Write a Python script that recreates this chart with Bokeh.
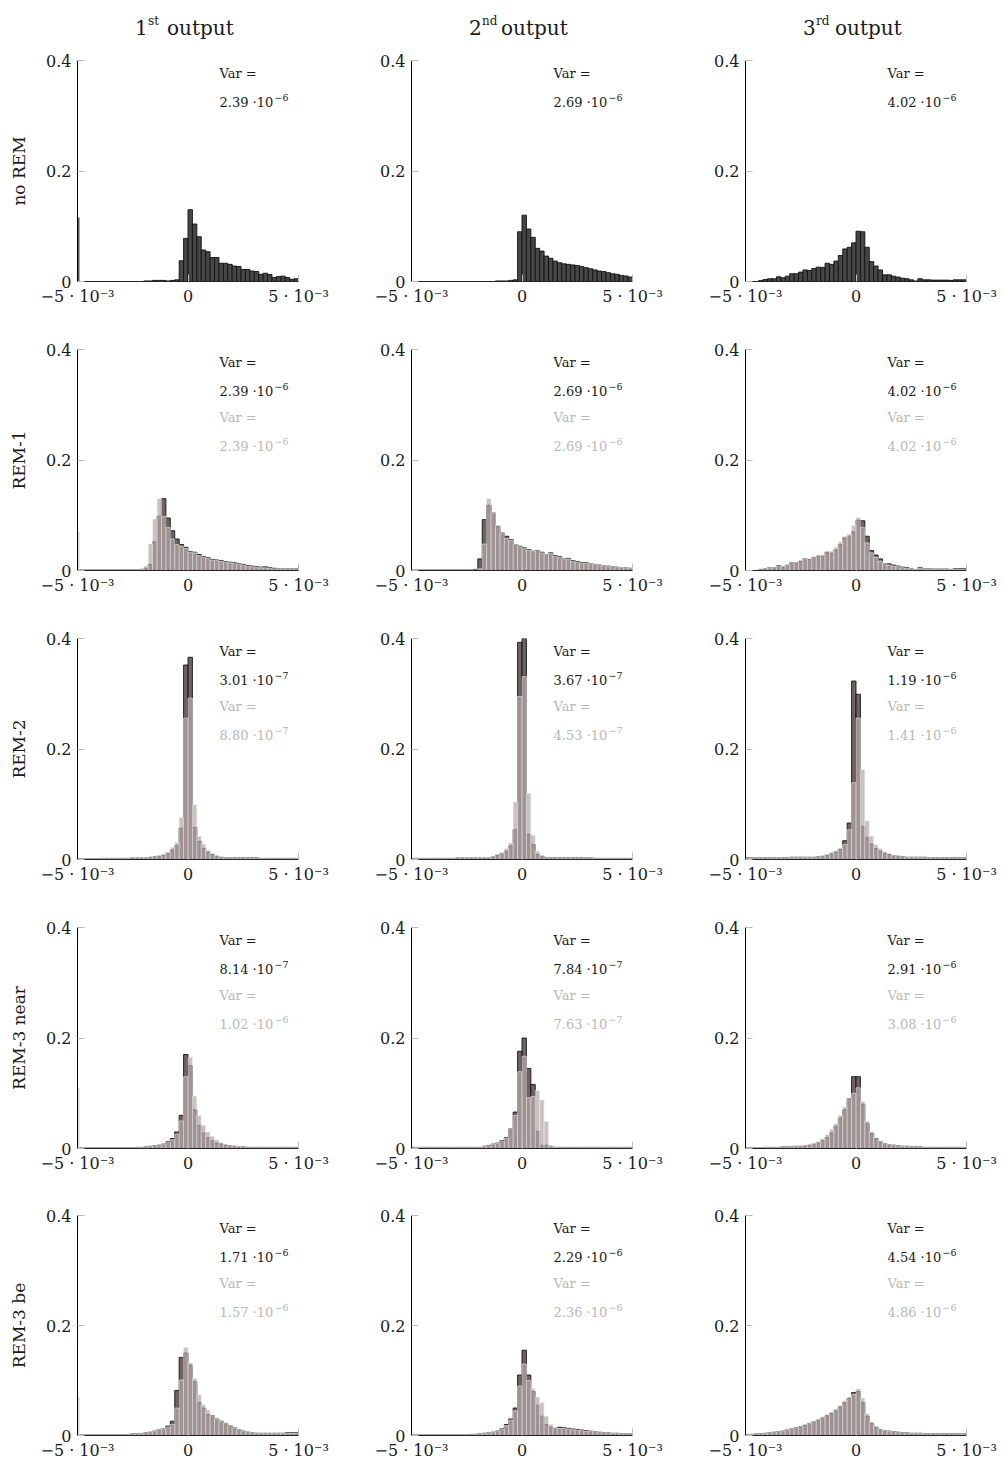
import numpy as np
from bokeh.plotting import figure
from bokeh.layouts import gridplot
from bokeh.models import Range1d, FixedTicker, Label
from bokeh.embed import file_html
from bokeh.resources import INLINE

# ---------------- data ----------------
bin_edges = np.linspace(-0.005, 0.005, 51)

col_numbers = ["1", "2", "3"]
col_suffix = ["st", "nd", "rd"]
row_names = ["no REM", "REM-1", "REM-2", "REM-3 near", "REM-3 be"]

x_ticks = [-0.005, 0, 0.005]
x_tick_labels = ["\u22125 \u00b7 10\u207b\u00b3", "0", "5 \u00b7 10\u207b\u00b3"]
y_ticks = [0, 0.2, 0.4]
y_tick_labels = ["0", "0.2", "0.4"]

# variance annotations: [row][col]  (dark series / light series)
var_dark = [["2.39", "2.69", "4.02"],
            ["2.39", "2.69", "4.02"],
            ["3.01", "3.67", "1.19"],
            ["8.14", "7.84", "2.91"],
            ["1.71", "2.29", "4.54"]]
var_dark_exp = [["\u22126", "\u22126", "\u22126"], ["\u22126", "\u22126", "\u22126"],
                ["\u22127", "\u22127", "\u22126"], ["\u22127", "\u22127", "\u22126"],
                ["\u22126", "\u22126", "\u22126"]]
var_light = [None,
             ["2.39", "2.69", "4.02"],
             ["8.80", "4.53", "1.41"],
             ["1.02", "7.63", "3.08"],
             ["1.57", "2.36", "4.86"]]
var_light_exp = [None, ["\u22126", "\u22126", "\u22126"], ["\u22127", "\u22127", "\u22126"],
                 ["\u22126", "\u22127", "\u22126"], ["\u22126", "\u22126", "\u22126"]]

# left-edge spikes (col 1)
edge_spike_dark = [0.116, 0, 0, 0, 0]
edge_spike_light = [0, 0.07, 0, 0.11, 0.07]

# ---- row 1 : no REM ----
noREM_c1 = [0, 0, 0, 0, 0, 0, 0, 0, 0, 0,
            0, 0, 0, 0, 0, 0.001, 0.001, 0.002, 0.002, 0.002,
            0.001, 0.002, 0.003, 0.0375, 0.078, 0.130, 0.104, 0.081, 0.057, 0.054,
            0.0434, 0.0434, 0.033, 0.033, 0.031, 0.028, 0.027, 0.0217, 0.0217, 0.019,
            0.018, 0.013, 0.015, 0.0127, 0.0072, 0.009, 0.0097, 0.0072, 0.004, 0.005]
noREM_c2 = [0, 0, 0, 0, 0, 0, 0, 0, 0, 0,
            0, 0, 0, 0, 0, 0, 0, 0, 0, 0.001,
            0.001, 0.001, 0.002, 0.003, 0.090, 0.120, 0.095, 0.080, 0.060, 0.055,
            0.046, 0.042, 0.037, 0.034, 0.032, 0.031, 0.030, 0.029, 0.027, 0.025,
            0.023, 0.021, 0.019, 0.018, 0.016, 0.014, 0.013, 0.011, 0.010, 0.008]
noREM_c3 = [0, 0, 0, 0.002, 0.0036, 0.005, 0.005, 0.0085, 0.0066, 0.0097,
            0.014, 0.014, 0.017, 0.021, 0.020, 0.0235, 0.026, 0.0255, 0.033, 0.031,
            0.037, 0.047, 0.059, 0.062, 0.070, 0.091, 0.090, 0.062, 0.036, 0.028,
            0.021, 0.012, 0.012, 0.0097, 0.008, 0.006, 0.005, 0.003, 0.001, 0.005,
            0.003, 0.003, 0.0025, 0.0025, 0.0025, 0.0025, 0.002, 0.003, 0.003, 0.003]

# ---- row 2 : REM-1 ----
rem1_dark_c1 = [0.001, 0.001, 0.001, 0.001, 0.001, 0.001, 0.001, 0.001, 0.001, 0.001,
                0.001, 0.001, 0.001, 0.001, 0.002, 0.004, 0.011, 0.052, 0.098, 0.130,
                0.095, 0.072, 0.057, 0.047, 0.042, 0.034, 0.033, 0.029, 0.025, 0.023,
                0.020, 0.019, 0.018, 0.016, 0.015, 0.014, 0.012, 0.011, 0.009, 0.008,
                0.007, 0.006, 0.0066, 0.005, 0.004, 0.003, 0.003, 0.003, 0.003, 0.003]
rem1_light_c1 = [0.001, 0.001, 0.001, 0.001, 0.001, 0.001, 0.001, 0.001, 0.001, 0.001,
                 0.001, 0.001, 0.001, 0.001, 0.002, 0.008, 0.048, 0.093, 0.130, 0.098,
                 0.078, 0.057, 0.047, 0.044, 0.040, 0.033, 0.032, 0.027, 0.024, 0.022,
                 0.019, 0.018, 0.017, 0.015, 0.014, 0.013, 0.011, 0.010, 0.008, 0.007,
                 0.006, 0.005, 0.005, 0.004, 0.003, 0.003, 0.003, 0.003, 0.003, 0.003]
rem1_dark_c2 = [0.001, 0.001, 0.001, 0.001, 0.001, 0.001, 0.001, 0.001, 0.001, 0.001,
                0.001, 0.001, 0.001, 0.001, 0.002, 0.021, 0.092, 0.118, 0.104, 0.080,
                0.068, 0.062, 0.056, 0.047, 0.044, 0.041, 0.038, 0.035, 0.036, 0.033,
                0.029, 0.032, 0.027, 0.025, 0.021, 0.022, 0.018, 0.016, 0.014, 0.014,
                0.012, 0.011, 0.010, 0.009, 0.008, 0.007, 0.006, 0.005, 0.005, 0.004]
rem1_light_c2 = [0.001, 0.001, 0.001, 0.001, 0.001, 0.001, 0.001, 0.001, 0.001, 0.001,
                 0.001, 0.001, 0.001, 0.001, 0.001, 0.003, 0.048, 0.130, 0.104, 0.082,
                 0.068, 0.058, 0.055, 0.047, 0.043, 0.040, 0.037, 0.035, 0.038, 0.032,
                 0.029, 0.031, 0.026, 0.024, 0.021, 0.021, 0.017, 0.015, 0.013, 0.013,
                 0.012, 0.011, 0.010, 0.009, 0.008, 0.007, 0.006, 0.006, 0.005, 0.004]
rem1_dark_c3 = [0, 0, 0, 0.002, 0.0036, 0.005, 0.005, 0.0085, 0.0066, 0.0097,
                0.014, 0.014, 0.017, 0.021, 0.020, 0.0235, 0.026, 0.0255, 0.033, 0.031,
                0.037, 0.047, 0.059, 0.062, 0.070, 0.091, 0.090, 0.062, 0.036, 0.028,
                0.021, 0.012, 0.012, 0.0097, 0.008, 0.006, 0.005, 0.003, 0.001, 0.005,
                0.003, 0.003, 0.0025, 0.0025, 0.0025, 0.0025, 0.002, 0.003, 0.003, 0.003]
rem1_light_c3 = [0, 0, 0.001, 0.003, 0.004, 0.005, 0.006, 0.008, 0.008, 0.010,
                 0.014, 0.015, 0.018, 0.021, 0.022, 0.025, 0.028, 0.029, 0.035, 0.035,
                 0.042, 0.052, 0.062, 0.066, 0.082, 0.096, 0.078, 0.050, 0.032, 0.024,
                 0.017, 0.012, 0.010, 0.008, 0.007, 0.005, 0.004, 0.003, 0.003, 0.004,
                 0.003, 0.003, 0.002, 0.002, 0.002, 0.002, 0.002, 0.002, 0.002, 0.002]

# ---- row 3 : REM-2 ----
rem2_dark_c1 = [0.001, 0.001, 0.001, 0.001, 0.001, 0.002, 0.002, 0.002, 0.002, 0.002,
                0.002, 0.002, 0.003, 0.003, 0.003, 0.003, 0.004, 0.005, 0.006, 0.008,
                0.011, 0.017, 0.025, 0.057, 0.352, 0.366, 0.058, 0.033, 0.020, 0.013,
                0.009, 0.006, 0.004, 0.003, 0.003, 0.003, 0.003, 0.003, 0.003, 0.003,
                0.003, 0.002, 0.002, 0.002, 0.002, 0.002, 0.002, 0.002, 0.002, 0.002]
rem2_light_c1 = [0.001, 0.001, 0.001, 0.001, 0.001, 0.002, 0.002, 0.002, 0.002, 0.002,
                 0.002, 0.002, 0.004, 0.004, 0.004, 0.004, 0.005, 0.006, 0.0075, 0.0093,
                 0.013, 0.022, 0.031, 0.076, 0.256, 0.292, 0.099, 0.042, 0.028, 0.017,
                 0.011, 0.007, 0.005, 0.003, 0.003, 0.003, 0.003, 0.003, 0.003, 0.003,
                 0.003, 0.002, 0.002, 0.002, 0.002, 0.002, 0.002, 0.002, 0.002, 0.002]
rem2_dark_c2 = [0.002, 0.002, 0.002, 0.002, 0.002, 0.002, 0.002, 0.002, 0.002, 0.002,
                0.003, 0.003, 0.003, 0.003, 0.003, 0.003, 0.003, 0.003, 0.005, 0.008,
                0.011, 0.015, 0.025, 0.054, 0.393, 0.400, 0.045, 0.027, 0.009, 0.006,
                0.003, 0.003, 0.003, 0.003, 0.003, 0.003, 0.003, 0.003, 0.003, 0.003,
                0.003, 0.002, 0.002, 0.002, 0.002, 0.002, 0.002, 0.002, 0.002, 0.002]
rem2_light_c2 = [0.002, 0.002, 0.002, 0.002, 0.002, 0.002, 0.002, 0.002, 0.002, 0.002,
                 0.004, 0.004, 0.004, 0.004, 0.004, 0.004, 0.004, 0.004, 0.006, 0.009,
                 0.012, 0.020, 0.030, 0.104, 0.295, 0.331, 0.120, 0.044, 0.015, 0.007,
                 0.003, 0.003, 0.003, 0.003, 0.003, 0.003, 0.003, 0.003, 0.003, 0.003,
                 0.003, 0.002, 0.002, 0.002, 0.002, 0.002, 0.002, 0.002, 0.002, 0.002]
rem2_dark_c3 = [0.003, 0.003, 0.003, 0.003, 0.003, 0.003, 0.003, 0.003, 0.003, 0.003,
                0.004, 0.004, 0.004, 0.004, 0.004, 0.004, 0.005, 0.006, 0.008, 0.011,
                0.014, 0.018, 0.034, 0.066, 0.323, 0.299, 0.060, 0.040, 0.028, 0.020,
                0.015, 0.011, 0.009, 0.007, 0.006, 0.005, 0.004, 0.004, 0.004, 0.004,
                0.004, 0.003, 0.003, 0.003, 0.003, 0.003, 0.003, 0.003, 0.003, 0.003]
rem2_light_c3 = [0.003, 0.003, 0.003, 0.003, 0.003, 0.003, 0.003, 0.003, 0.003, 0.003,
                 0.004, 0.004, 0.004, 0.004, 0.004, 0.004, 0.005, 0.007, 0.009, 0.012,
                 0.015, 0.021, 0.027, 0.054, 0.139, 0.256, 0.163, 0.070, 0.042, 0.027,
                 0.020, 0.014, 0.011, 0.008, 0.007, 0.005, 0.004, 0.004, 0.004, 0.004,
                 0.004, 0.003, 0.003, 0.003, 0.003, 0.003, 0.003, 0.003, 0.003, 0.003]

# ---- row 4 : REM-3 near ----
rem3n_dark_c1 = [0.001, 0.001, 0.001, 0.001, 0.001, 0.001, 0.001, 0.001, 0.001, 0.001,
                 0.001, 0.001, 0.001, 0.002, 0.002, 0.003, 0.004, 0.005, 0.006, 0.008,
                 0.012, 0.018, 0.030, 0.060, 0.170, 0.150, 0.070, 0.042, 0.028, 0.020,
                 0.014, 0.010, 0.008, 0.006, 0.005, 0.004, 0.003, 0.003, 0.002, 0.002,
                 0.002, 0.002, 0.002, 0.002, 0.002, 0.002, 0.002, 0.002, 0.002, 0.002]
rem3n_light_c1 = [0.001, 0.001, 0.001, 0.001, 0.001, 0.001, 0.001, 0.001, 0.001, 0.001,
                  0.001, 0.001, 0.001, 0.002, 0.002, 0.003, 0.004, 0.005, 0.006, 0.008,
                  0.011, 0.016, 0.026, 0.050, 0.130, 0.165, 0.095, 0.060, 0.042, 0.030,
                  0.022, 0.016, 0.011, 0.008, 0.006, 0.005, 0.004, 0.003, 0.003, 0.002,
                  0.002, 0.002, 0.002, 0.002, 0.002, 0.002, 0.002, 0.002, 0.002, 0.002]
rem3n_dark_c2 = [0.002, 0.002, 0.002, 0.002, 0.002, 0.002, 0.002, 0.002, 0.002, 0.002,
                 0.002, 0.002, 0.002, 0.002, 0.002, 0.002, 0.004, 0.0055, 0.008, 0.0097,
                 0.014, 0.020, 0.036, 0.066, 0.176, 0.200, 0.145, 0.116, 0.031, 0.006,
                 0.006, 0.004, 0.002, 0.002, 0.002, 0.002, 0.002, 0.002, 0.002, 0.002,
                 0.002, 0.002, 0.002, 0.002, 0.002, 0.002, 0.002, 0.002, 0.002, 0.002]
rem3n_light_c2 = [0.002, 0.002, 0.002, 0.002, 0.002, 0.002, 0.002, 0.002, 0.002, 0.002,
                  0.002, 0.002, 0.002, 0.002, 0.002, 0.002, 0.004, 0.005, 0.008, 0.009,
                  0.013, 0.019, 0.036, 0.060, 0.139, 0.167, 0.092, 0.094, 0.105, 0.088,
                  0.049, 0.004, 0.002, 0.002, 0.002, 0.002, 0.002, 0.002, 0.002, 0.002,
                  0.002, 0.002, 0.002, 0.002, 0.002, 0.002, 0.002, 0.002, 0.002, 0.002]
rem3n_dark_c3 = [0.001, 0.001, 0.001, 0.001, 0.002, 0.002, 0.002, 0.002, 0.003, 0.003,
                 0.003, 0.004, 0.004, 0.005, 0.006, 0.008, 0.010, 0.014, 0.020, 0.028,
                 0.040, 0.055, 0.070, 0.090, 0.130, 0.130, 0.080, 0.045, 0.028, 0.018,
                 0.012, 0.009, 0.007, 0.006, 0.005, 0.004, 0.004, 0.003, 0.003, 0.003,
                 0.002, 0.002, 0.002, 0.002, 0.002, 0.002, 0.002, 0.002, 0.002, 0.002]
rem3n_light_c3 = [0.001, 0.001, 0.001, 0.001, 0.002, 0.002, 0.002, 0.002, 0.003, 0.003,
                  0.003, 0.004, 0.005, 0.006, 0.008, 0.010, 0.013, 0.018, 0.025, 0.035,
                  0.045, 0.060, 0.075, 0.090, 0.100, 0.110, 0.085, 0.050, 0.030, 0.020,
                  0.014, 0.010, 0.008, 0.006, 0.005, 0.004, 0.004, 0.003, 0.003, 0.003,
                  0.002, 0.002, 0.002, 0.002, 0.002, 0.002, 0.002, 0.002, 0.002, 0.002]

# ---- row 5 : REM-3 be ----
rem3b_dark_c1 = [0.001, 0.001, 0.001, 0.001, 0.001, 0.001, 0.001, 0.001, 0.001, 0.001,
                 0.001, 0.001, 0.003, 0.003, 0.003, 0.005, 0.006, 0.008, 0.011, 0.012,
                 0.017, 0.026, 0.082, 0.142, 0.150, 0.128, 0.098, 0.060, 0.050, 0.038,
                 0.036, 0.030, 0.026, 0.022, 0.018, 0.014, 0.011, 0.008, 0.006, 0.005,
                 0.004, 0.004, 0.004, 0.004, 0.004, 0.004, 0.004, 0.005, 0.005, 0.005]
rem3b_light_c1 = [0.001, 0.001, 0.001, 0.001, 0.001, 0.001, 0.001, 0.001, 0.001, 0.001,
                  0.001, 0.001, 0.003, 0.003, 0.003, 0.005, 0.006, 0.008, 0.011, 0.012,
                  0.015, 0.020, 0.050, 0.101, 0.160, 0.132, 0.104, 0.074, 0.056, 0.047,
                  0.036, 0.030, 0.026, 0.022, 0.018, 0.014, 0.011, 0.008, 0.006, 0.005,
                  0.004, 0.004, 0.004, 0.004, 0.004, 0.004, 0.004, 0.004, 0.004, 0.004]
rem3b_dark_c2 = [0.001, 0.001, 0.001, 0.001, 0.001, 0.001, 0.001, 0.001, 0.001, 0.001,
                 0.001, 0.001, 0.001, 0.002, 0.002, 0.003, 0.004, 0.005, 0.006, 0.008,
                 0.012, 0.020, 0.030, 0.050, 0.110, 0.155, 0.110, 0.080, 0.055, 0.035,
                 0.020, 0.015, 0.013, 0.015, 0.014, 0.013, 0.012, 0.011, 0.010, 0.009,
                 0.008, 0.007, 0.006, 0.005, 0.005, 0.004, 0.004, 0.003, 0.003, 0.003]
rem3b_light_c2 = [0.001, 0.001, 0.001, 0.001, 0.001, 0.001, 0.001, 0.001, 0.001, 0.001,
                  0.001, 0.001, 0.001, 0.002, 0.002, 0.003, 0.004, 0.005, 0.006, 0.008,
                  0.011, 0.018, 0.028, 0.045, 0.090, 0.130, 0.100, 0.085, 0.070, 0.060,
                  0.035, 0.020, 0.014, 0.013, 0.013, 0.012, 0.011, 0.010, 0.009, 0.008,
                  0.008, 0.007, 0.006, 0.005, 0.005, 0.004, 0.004, 0.003, 0.003, 0.003]
rem3b_dark_c3 = [0.001, 0.002, 0.003, 0.003, 0.004, 0.005, 0.006, 0.007, 0.008, 0.010,
                 0.012, 0.014, 0.016, 0.019, 0.022, 0.025, 0.028, 0.032, 0.036, 0.040,
                 0.045, 0.052, 0.060, 0.068, 0.078, 0.080, 0.060, 0.035, 0.022, 0.015,
                 0.011, 0.009, 0.008, 0.007, 0.006, 0.005, 0.005, 0.004, 0.004, 0.004,
                 0.003, 0.003, 0.003, 0.003, 0.003, 0.003, 0.003, 0.003, 0.003, 0.003]
rem3b_light_c3 = [0.001, 0.002, 0.003, 0.003, 0.004, 0.005, 0.006, 0.007, 0.008, 0.010,
                  0.012, 0.014, 0.017, 0.020, 0.023, 0.026, 0.030, 0.034, 0.038, 0.043,
                  0.048, 0.055, 0.063, 0.070, 0.075, 0.085, 0.068, 0.040, 0.025, 0.017,
                  0.012, 0.010, 0.008, 0.007, 0.006, 0.005, 0.005, 0.004, 0.004, 0.004,
                  0.003, 0.003, 0.003, 0.003, 0.003, 0.003, 0.003, 0.003, 0.003, 0.003]

dark_series = [[noREM_c1, noREM_c2, noREM_c3],
               [rem1_dark_c1, rem1_dark_c2, rem1_dark_c3],
               [rem2_dark_c1, rem2_dark_c2, rem2_dark_c3],
               [rem3n_dark_c1, rem3n_dark_c2, rem3n_dark_c3],
               [rem3b_dark_c1, rem3b_dark_c2, rem3b_dark_c3]]
light_series = [[None, None, None],
                [rem1_light_c1, rem1_light_c2, rem1_light_c3],
                [rem2_light_c1, rem2_light_c2, rem2_light_c3],
                [rem3n_light_c1, rem3n_light_c2, rem3n_light_c3],
                [rem3b_light_c1, rem3b_light_c2, rem3b_light_c3]]

# ---------------- layout ----------------
FONT = "DejaVu Serif"
TXT = "#1a1a1a"
LIGHT_TXT = "#b8b8b8"
col_left = [77, 67, 67]
col_right = [46, 46, 34]
row_top = [16, 20, 20, 20, 19]
row_bottom = [48, 48, 48, 48, 26]
HEADER_H = 44
FRAME_W, FRAME_H = 221, 221


def make_header(c):
    # same left/right borders as the panels below, so the text frame lines up
    w = col_left[c] + FRAME_W + col_right[c]
    p = figure(width=w, height=HEADER_H,
               x_range=Range1d(-FRAME_W / 2, FRAME_W / 2),
               y_range=Range1d(HEADER_H, 0), x_axis_type=None, y_axis_type=None,
               output_backend="svg", toolbar_location=None,
               min_border_left=col_left[c], min_border_right=col_right[c],
               min_border_top=0, min_border_bottom=0, title=None)
    p.outline_line_color = None
    # y measured downward from the top of the header (reversed range)
    p.add_layout(Label(x=-53, y=27, text=col_numbers[c], text_font=FONT,
                       text_font_size="20px", text_color=TXT,
                       text_align="left", text_baseline="middle"))
    p.add_layout(Label(x=-40, y=20, text=col_suffix[c], text_font=FONT,
                       text_font_size="12px", text_color=TXT,
                       text_align="left", text_baseline="middle"))
    p.add_layout(Label(x=-21, y=27, text="output", text_font=FONT,
                       text_font_size="20px", text_color=TXT,
                       text_align="left", text_baseline="middle"))
    return p


def var_labels(p, mant, expo, color, dy):
    p.add_layout(Label(x=-0.005, y=0.4, x_offset=142, y_offset=-dy, text="Var =",
                       text_font=FONT, text_font_size="13px", text_color=color,
                       text_align="left", text_baseline="middle"))
    p.add_layout(Label(x=-0.005, y=0.4, x_offset=142, y_offset=-dy - 29,
                       text=mant + " \u00b710", text_font=FONT, text_font_size="13px",
                       text_color=color, text_align="left", text_baseline="middle"))
    p.add_layout(Label(x=-0.005, y=0.4, x_offset=197, y_offset=-dy - 24,
                       text=expo, text_font=FONT, text_font_size="9.5px",
                       text_color=color, text_align="left", text_baseline="middle"))


def make_panel(r, c):
    w = col_left[c] + FRAME_W + col_right[c]
    h = row_top[r] + FRAME_H + row_bottom[r]
    p = figure(width=w, height=h, x_range=Range1d(-0.005, 0.005),
               y_range=Range1d(0, 0.4), output_backend="svg",
               toolbar_location=None, min_border_left=col_left[c],
               min_border_right=col_right[c], min_border_top=row_top[r],
               min_border_bottom=row_bottom[r], title=None)
    p.outline_line_color = None
    p.xgrid.visible = False
    p.ygrid.visible = False

    left = bin_edges[:-1]
    right = bin_edges[1:]
    dark = dark_series[r][c]
    light = light_series[r][c]
    if light is None:
        p.quad(left=left, right=right, bottom=0, top=dark,
               fill_color="#474747", line_color="#111111", line_width=0.9)
    else:
        p.quad(left=left, right=right, bottom=0, top=dark,
               fill_color="#6f6262", line_color="#151515", line_width=0.9)
        p.quad(left=left, right=right, bottom=0, top=light,
               fill_color="#b3a6a6", fill_alpha=0.7,
               line_color="#f2eeee", line_alpha=0.7, line_width=0.8)

    if c == 0:
        if edge_spike_dark[r] > 0:
            p.segment(x0=[-0.005], y0=[0], x1=[-0.005], y1=[edge_spike_dark[r]],
                      line_color="#555555", line_width=4)
        if edge_spike_light[r] > 0:
            p.segment(x0=[-0.005], y0=[0], x1=[-0.005], y1=[edge_spike_light[r]],
                      line_color="#d6d6d6", line_width=4)

    # axes
    p.xaxis.ticker = FixedTicker(ticks=x_ticks)
    p.xaxis.major_label_overrides = dict(zip(x_ticks, x_tick_labels))
    p.yaxis.ticker = FixedTicker(ticks=y_ticks)
    p.yaxis.major_label_overrides = dict(zip(y_ticks, y_tick_labels))
    for ax in (p.xaxis, p.yaxis):
        ax.major_tick_in = 7
        ax.major_tick_out = 0
        ax.minor_tick_line_color = None
        ax.major_tick_line_color = "#bdbdbd"
        ax.major_label_text_font = FONT
        ax.major_label_text_font_size = "16px"
        ax.major_label_text_color = TXT
    p.yaxis.axis_line_color = "#000000"
    p.xaxis.axis_line_color = "#222222"
    p.yaxis.major_label_standoff = 6
    p.xaxis.major_label_standoff = 5

    # row labels as y-axis titles
    if c == 0:
        p.yaxis.axis_label = row_names[r]
        p.yaxis.axis_label_text_font = FONT
        p.yaxis.axis_label_text_font_size = "17px"
        p.yaxis.axis_label_text_font_style = "normal"
        p.yaxis.axis_label_text_color = TXT
        p.yaxis.axis_label_standoff = 14

    # variance annotations
    var_labels(p, var_dark[r][c], var_dark_exp[r][c], TXT, 13)
    if var_light[r] is not None:
        var_labels(p, var_light[r][c], var_light_exp[r][c], LIGHT_TXT, 68)
    return p


figs = [[make_header(c) for c in range(3)]]
figs += [[make_panel(r, c) for c in range(3)] for r in range(5)]
grid = gridplot(figs, toolbar_location=None)

open("out.html", "w").write(file_html(grid, INLINE, title="Histograms"))
